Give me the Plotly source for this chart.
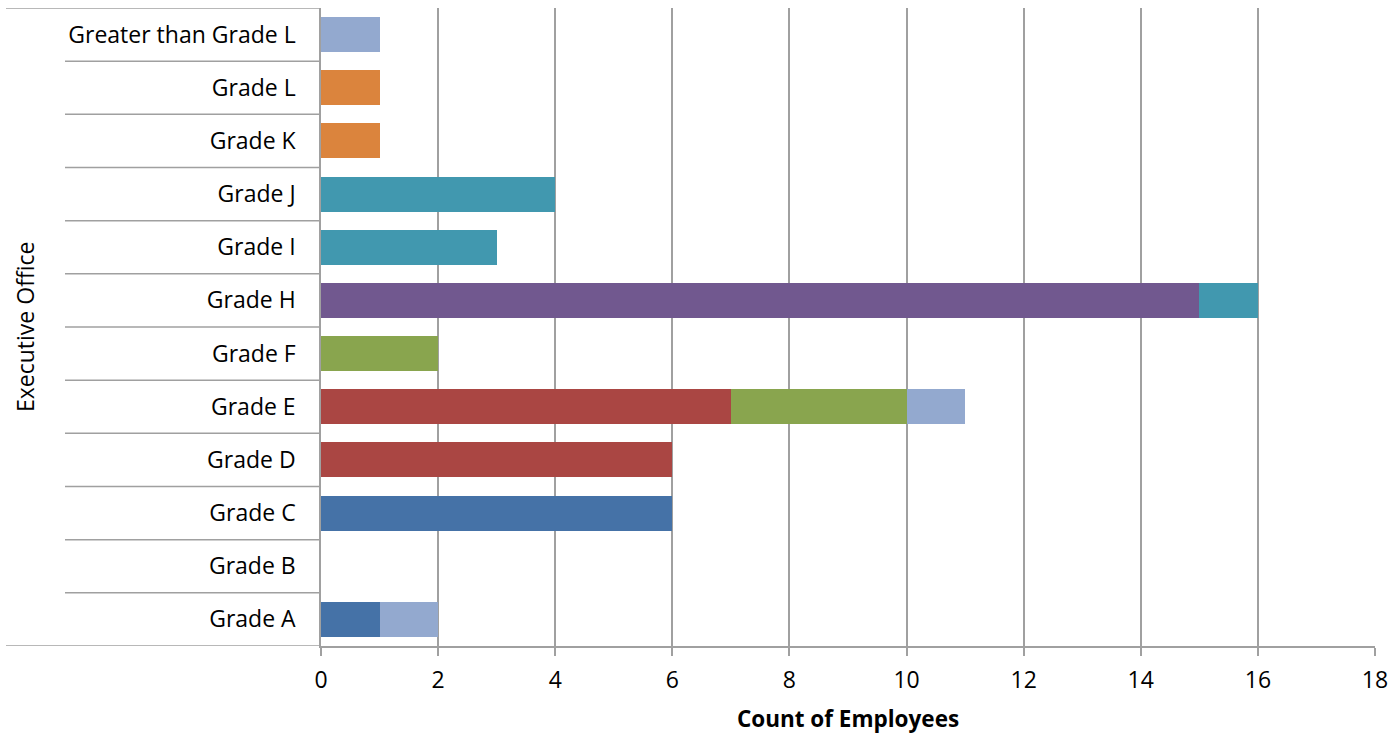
import plotly.graph_objects as go

categories = ["Grade A", "Grade B", "Grade C", "Grade D", "Grade E", "Grade F",
              "Grade H", "Grade I", "Grade J", "Grade K", "Grade L", "Greater than Grade L"]

series_names = ["Series 1", "Series 2", "Series 3", "Series 4", "Series 5", "Series 6", "Series 7"]
s1_blue = [1, 0, 6, 0, 0, 0, 0, 0, 0, 0, 0, 0]
s2_red = [0, 0, 0, 6, 7, 0, 0, 0, 0, 0, 0, 0]
s3_green = [0, 0, 0, 0, 3, 2, 0, 0, 0, 0, 0, 0]
s4_purple = [0, 0, 0, 0, 0, 0, 15, 0, 0, 0, 0, 0]
s5_teal = [0, 0, 0, 0, 0, 0, 1, 3, 4, 0, 0, 0]
s6_orange = [0, 0, 0, 0, 0, 0, 0, 0, 0, 1, 1, 0]
s7_lightblue = [1, 0, 0, 0, 1, 0, 0, 0, 0, 0, 0, 1]

x_ticks = [0, 2, 4, 6, 8, 10, 12, 14, 16, 18]
group_label = "Executive Office"
x_title = "Count of Employees"

series_values = [s1_blue, s2_red, s3_green, s4_purple, s5_teal, s6_orange, s7_lightblue]
colors = ["#4572A7", "#AA4643", "#89A54E", "#71588F", "#4198AF", "#DB843D", "#93A9CF"]

FONT = "Open Sans"
GRID = "#A0A0A0"

fig = go.Figure()
for name, vals, col in zip(series_names, series_values, colors):
    fig.add_trace(go.Bar(
        y=categories, x=vals, name=name, orientation="h",
        marker=dict(color=col, line=dict(width=0)),
        hoverinfo="x+y+name",
    ))

W, H = 1390, 746
L, R = 321, 1375          # plot area left/right (px)
T, B = 8, 646             # plot area top/bottom (px)
pw = R - L


def px2paper(px):
    return (px - L) / pw


shapes = []
n = len(categories)
for i in range(n + 1):
    yb = i - 0.5
    x0 = px2paper(6) if i in (0, n) else px2paper(65)
    shapes.append(dict(type="line", xref="paper", yref="y", x0=x0, x1=0,
                       y0=yb, y1=yb, line=dict(color=GRID, width=1.5), layer="below"))

fig.update_layout(
    barmode="stack",
    bargap=0.34,
    width=W, height=H,
    autosize=False,
    margin=dict(l=L, r=W - R, t=T, b=H - B, pad=0, autoexpand=False),
    plot_bgcolor="white", paper_bgcolor="white",
    showlegend=False,
    font=dict(family=FONT, size=23, color="#000000"),
    shapes=shapes,
    annotations=[dict(text=group_label, xref="paper", yref="paper",
                      x=px2paper(25), y=0.5, textangle=-90, showarrow=False,
                      font=dict(family=FONT, size=23, color="#000000"),
                      xanchor="center", yanchor="middle")],
    xaxis=dict(
        range=[0, 18], tickvals=x_ticks, ticktext=[str(t) for t in x_ticks],
        showgrid=True, gridcolor=GRID, gridwidth=1.5,
        showline=True, linecolor=GRID, linewidth=1.5,
        ticks="outside", ticklen=8, tickcolor=GRID, tickwidth=1.5,
        ticklabelstandoff=5, ticklabeloverflow="allow",
        zeroline=False, automargin=False,
        title=dict(text="<b>" + x_title + "</b>", font=dict(family=FONT, size=22.5, color="#000000"),
                   standoff=17),
        tickfont=dict(family=FONT, size=23, color="#000000"),
    ),
    yaxis=dict(
        categoryorder="array", categoryarray=categories,
        range=[-0.5, n - 0.5],
        showgrid=False, zeroline=False, automargin=False,
        showline=True, linecolor=GRID, linewidth=1.5,
        ticks="", ticklabelstandoff=19,
        tickfont=dict(family=FONT, size=23, color="#000000"),
    ),
)

fig.write_html(
    "out.html",
    config={"displayModeBar": False},
    post_script="document.body.style.margin='0';document.body.style.padding='0';"
                "document.body.style.overflow='hidden';",
)
